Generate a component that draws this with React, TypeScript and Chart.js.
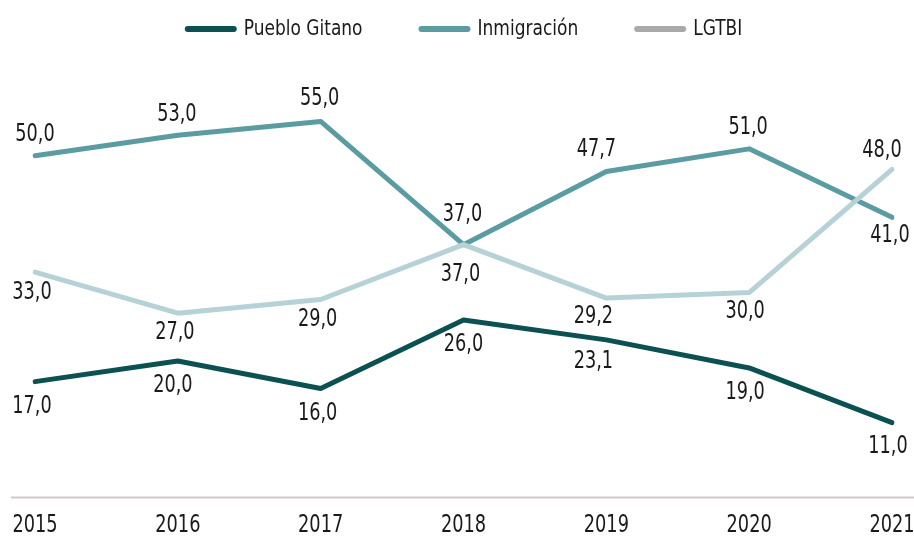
import React, { useEffect, useRef } from "react";
import { Chart, registerables } from "chart.js";

Chart.register(...registerables);

// Survey years
const years = ["2015", "2016", "2017", "2018", "2019", "2020", "2021"];

// Series values (percent)
const puebloGitano = [17, 20, 16, 26, 23.1, 19, 11];
const inmigracion = [50, 53, 55, 37, 47.7, 51, 41];
const lgtbi = [33, 27, 29, 37, 29.2, 30, 48];

const seriesNames = ["Pueblo Gitano", "Inmigración", "LGTBI"];

// Label placement relative to each point (pixels)
const labelDy = [
  [25, 25, 25, 25, 22, 25, 24],
  [-21, -20, -23, -30, -22, -21, 18],
  [21, 20, 20, 30, 19, 19, -19],
];
const labelDx = [
  [-3, -5, -3, 0, -13, -4, -4],
  [0, -1, -1, -1, -10, -1, -2],
  [-3, -3, -3, -3, -13, -4, -10],
];

const FONT = "'DejaVu Sans Condensed', 'DejaVu Sans', sans-serif";
const TEXT = "#1a1a1a";
const AXIS = "#d0c8c6";
const lineColors = ["#0b5151", "#5a9ca1", "#b6d2d7"];
const legendColors = ["#0b5151", "#5a9ca1", "#a9a9a9"];

// Draw narrow text by compressing horizontally around the anchor point
function narrowText(ctx: CanvasRenderingContext2D, txt: string, x: number, y: number, sx: number) {
  ctx.save();
  ctx.translate(x, y);
  ctx.scale(sx, 1);
  ctx.fillText(txt, 0, 0);
  ctx.restore();
}

// Baseline rule spanning nearly the full width, drawn under the lines
const baseRule = {
  id: "baseRule",
  beforeDatasetsDraw(chart: any) {
    const ctx = chart.ctx;
    const y = chart.chartArea.bottom - 0.5;
    ctx.save();
    ctx.strokeStyle = AXIS;
    ctx.lineWidth = 2;
    ctx.beginPath();
    ctx.moveTo(11, y);
    ctx.lineTo(chart.width, y);
    ctx.stroke();
    ctx.restore();
  },
};

const valueLabels = {
  id: "valueLabels",
  afterDatasetsDraw(chart: any) {
    const ctx = chart.ctx;
    ctx.save();
    ctx.font = `24px ${FONT}`;
    ctx.fillStyle = TEXT;
    ctx.textAlign = "center";
    ctx.textBaseline = "middle";
    chart.data.datasets.forEach((ds: any, i: number) => {
      const meta = chart.getDatasetMeta(i);
      meta.data.forEach((pt: any, j: number) => {
        const v = ds.data[j] as number;
        const txt = v.toFixed(1).replace(".", ",");
        narrowText(ctx, txt, pt.x + labelDx[i][j], pt.y + labelDy[i][j], 0.82);
      });
    });
    ctx.restore();
  },
};

const yearTicks = {
  id: "yearTicks",
  afterDraw(chart: any) {
    const ctx = chart.ctx;
    const xs = chart.scales.x;
    ctx.save();
    ctx.font = `25px ${FONT}`;
    ctx.fillStyle = TEXT;
    ctx.textAlign = "center";
    ctx.textBaseline = "middle";
    xs.ticks.forEach((_t: any, i: number) => {
      const x = xs.getPixelForTick(i);
      narrowText(ctx, String(chart.data.labels[i]), x, chart.chartArea.bottom + 27, 0.79);
    });
    ctx.restore();
  },
};

const topLegend = {
  id: "topLegend",
  afterDraw(chart: any) {
    const ctx = chart.ctx;
    const swatch = 52;
    const gapText = 7;
    const gapItem = 56;
    const sx = 0.86;
    const y = 29;
    ctx.save();
    ctx.font = `22px ${FONT}`;
    ctx.textBaseline = "middle";
    ctx.textAlign = "left";
    const widths = seriesNames.map((n) => ctx.measureText(n).width * sx);
    const total =
      widths.reduce((a, w) => a + swatch + gapText + w, 0) + gapItem * (seriesNames.length - 1);
    const { left, right } = chart.chartArea;
    let x = (left + right) / 2 - total / 2;
    seriesNames.forEach((name, i) => {
      ctx.strokeStyle = legendColors[i];
      ctx.lineWidth = 6;
      ctx.lineCap = "round";
      ctx.beginPath();
      ctx.moveTo(x + 3, y);
      ctx.lineTo(x + swatch - 3, y);
      ctx.stroke();
      x += swatch + gapText;
      ctx.fillStyle = TEXT;
      narrowText(ctx, name, x, y, sx);
      x += widths[i] + gapItem;
    });
    ctx.restore();
  },
};

export default function App() {
  const canvasRef = useRef<HTMLCanvasElement | null>(null);

  useEffect(() => {
    document.body.style.margin = "0";
    const canvas = canvasRef.current;
    if (!canvas) return;
    const seriesData = [puebloGitano, inmigracion, lgtbi];
    const orders = [2, 1, 0];
    const chart = new Chart(canvas, {
      type: "line",
      data: {
        labels: years,
        datasets: seriesData.map((d, i) => ({
          label: seriesNames[i],
          data: d,
          borderColor: lineColors[i],
          backgroundColor: lineColors[i],
          borderWidth: 5,
          borderCapStyle: "round",
          borderJoinStyle: "round",
          pointRadius: 0,
          tension: 0,
          order: orders[i],
        })),
      },
      options: {
        responsive: false,
        animation: false,
        layout: { padding: { top: 53, left: 35, right: 22, bottom: 39 } },
        plugins: {
          legend: { display: false },
          tooltip: { enabled: false },
        },
        scales: {
          x: {
            offset: false,
            grid: { display: false, drawTicks: false },
            border: { display: false },
            ticks: { display: false },
          },
          y: {
            display: false,
            min: 0,
            max: 65,
          },
        },
      },
      plugins: [baseRule, valueLabels, yearTicks, topLegend],
    });
    return () => chart.destroy();
  }, []);

  return (
    <div style={{ width: 914, height: 537, background: "#ffffff" }}>
      <canvas ref={canvasRef} width={914} height={537} style={{ display: "block" }} />
    </div>
  );
}
